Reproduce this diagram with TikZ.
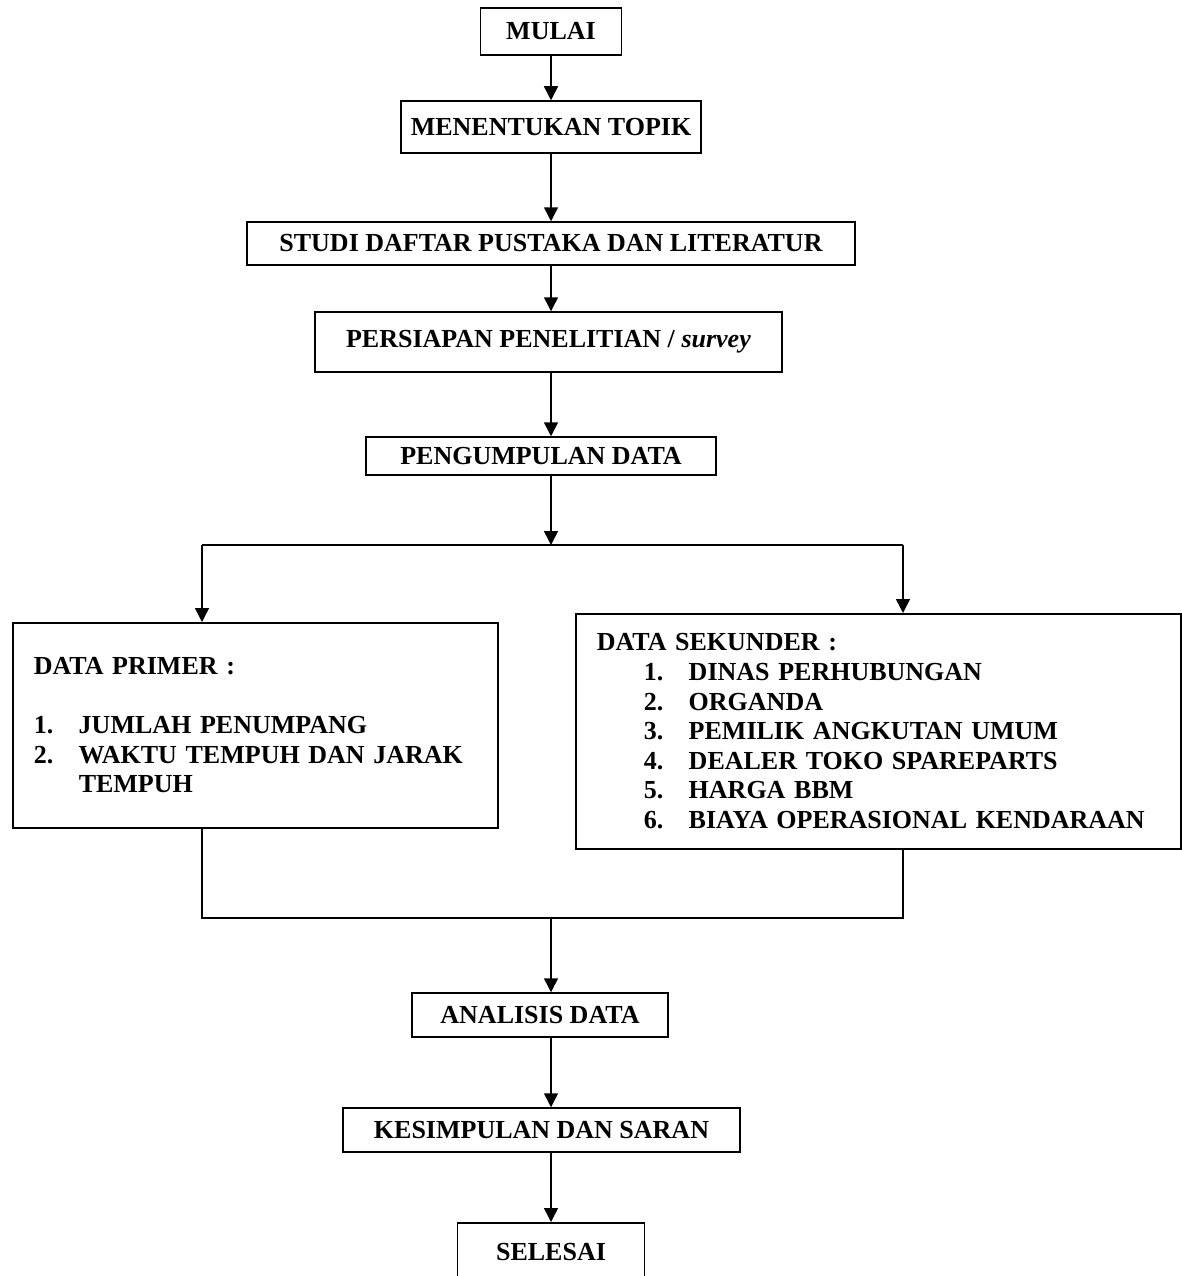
\documentclass[tikz,border=0pt]{standalone}
\usepackage{fontspec}
\setmainfont{Liberation Serif}
\usetikzlibrary{arrows.meta}

\newcommand{\nomor}[1]{\makebox[45pt][l]{#1}}

\begin{document}
\begin{tikzpicture}[x=1pt,y=-1pt,
    kotak/.style={draw, line width=1.5pt, inner sep=0pt,
      font=\fontsize{26}{29.6}\selectfont\bfseries},
    daftar/.style={kotak, align=left, anchor=north west, inner xsep=21pt},
    panah/.style={-{Triangle[length=14pt,width=14pt]}, line width=1.5pt},
    garis/.style={line width=1.5pt}]
    \clip (0,0) rectangle (1182,1276);
    \fill[white] (0,0) rectangle (1182,1276);
    \node[kotak, minimum width=141pt, minimum height=47pt] (mulai) at (551,31.5) {MULAI};
    \node[kotak, minimum width=300pt, minimum height=52pt] (topik) at (551,127) {MENENTUKAN TOPIK};
    \node[kotak, minimum width=608pt, minimum height=43pt] (studi) at (551,243.5) {STUDI DAFTAR PUSTAKA DAN LITERATUR};
    \node[kotak, minimum width=467pt, minimum height=60pt] (persiapan) at (548.5,342) {PERSIAPAN PENELITIAN / \textit{survey}};
    \node[kotak, minimum width=350pt, minimum height=38pt] (kumpul) at (541,456) {PENGUMPULAN DATA};
    \coordinate (cabang) at (551,545);
    \coordinate (kiri) at (202,545);
    \coordinate (kanan) at (903,545);
    \node[daftar, text width=443pt, minimum height=205pt] (primer) at (12,622) {DATA PRIMER :\\[29.6pt]
      \nomor{1.}JUMLAH PENUMPANG\\
      \nomor{2.}WAKTU TEMPUH DAN JARAK\\
      \hspace*{45pt}TEMPUH};
    \node[daftar, text width=563pt, minimum height=235pt] (sekunder) at (575,613) {DATA SEKUNDER :\\
      \hspace*{47pt}\nomor{1.}DINAS PERHUBUNGAN\\
      \hspace*{47pt}\nomor{2.}ORGANDA\\
      \hspace*{47pt}\nomor{3.}PEMILIK ANGKUTAN UMUM\\
      \hspace*{47pt}\nomor{4.}DEALER TOKO SPAREPARTS\\
      \hspace*{47pt}\nomor{5.}HARGA BBM\\
      \hspace*{47pt}\nomor{6.}BIAYA OPERASIONAL KENDARAAN};
    \coordinate (gabung) at (551,918);
    \node[kotak, minimum width=256pt, minimum height=44pt] (analisis) at (540,1015) {ANALISIS DATA};
    \node[kotak, minimum width=397pt, minimum height=44pt] (kesimpulan) at (541.5,1130) {KESIMPULAN DAN SARAN};
    \node[kotak, minimum width=187pt, minimum height=58pt, anchor=north] (selesai) at (551,1222) {SELESAI};
    % alur utama
    \draw[panah] (mulai) -- (topik);
    \draw[panah] (topik) -- (studi);
    \draw[panah] (studi.south -| cabang) -- (persiapan.north -| cabang);
    \draw[panah] (persiapan.south -| cabang) -- (kumpul.north -| cabang);
    \draw[panah] (kumpul.south -| cabang) -- (cabang);
    \draw[garis] (kiri) -- (kanan);
    \draw[panah] (kiri) -- (kiri |- primer.north);
    \draw[panah] (kanan) -- (kanan |- sekunder.north);
    \draw[garis] (primer.south -| kiri) |- (gabung) -| (sekunder.south -| kanan);
    \draw[panah] (gabung) -- (analisis.north -| gabung);
    \draw[panah] (analisis.south -| gabung) -- (kesimpulan.north -| gabung);
    \draw[panah] (kesimpulan.south -| gabung) -- (selesai.north -| gabung);
\end{tikzpicture}
\end{document}
